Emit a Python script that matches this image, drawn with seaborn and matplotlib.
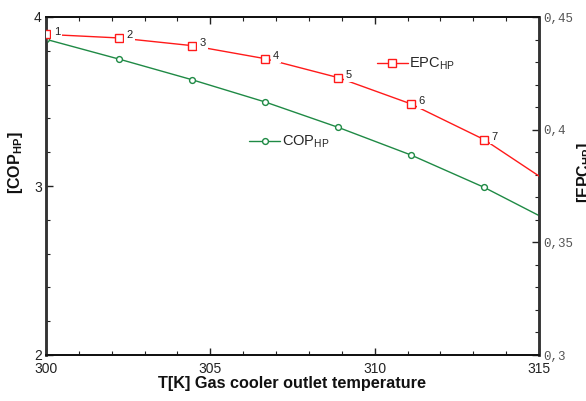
import numpy as np
import pandas as pd
import matplotlib
matplotlib.use("Agg")
import matplotlib.pyplot as plt
from matplotlib.lines import Line2D
from matplotlib.ticker import MultipleLocator, FixedLocator, FuncFormatter
import seaborn as sns

# Gas cooler outlet temperature [K] and the two performance figures
temperature = [300.0, 302.22, 304.44, 306.67, 308.89, 311.11, 313.33, 315.56]
cop_hp = [3.868, 3.751, 3.629, 3.497, 3.347, 3.183, 2.992, 2.769]
epc_hp = [0.4423, 0.4407, 0.4373, 0.4315, 0.4231, 0.4114, 0.3956, 0.374]
point_ids = ["1", "2", "3", "4", "5", "6", "7", ""]

x_ticks = [300, 305, 310, 315]
cop_ticks = [2, 3, 4]
epc_ticks = [0.3, 0.35, 0.4, 0.45]

df = pd.DataFrame({"T": temperature, "COP": cop_hp, "EPC": epc_hp, "id": point_ids})

sns.set_style("ticks")
plt.rcParams["font.family"] = ["Liberation Sans", "DejaVu Sans"]
plt.rcParams["mathtext.fontset"] = "custom"
plt.rcParams["mathtext.rm"] = "Liberation Sans"
plt.rcParams["mathtext.bf"] = "Liberation Sans:bold"
plt.rcParams["mathtext.it"] = "Liberation Sans:italic"

RED = "#ff1a1a"
GREEN = "#1f8a45"

fig = plt.figure(figsize=(5.86, 4.01), dpi=100)
ax = fig.add_axes([46 / 586, 1 - 355 / 401, 493 / 586, 338 / 401])
ax2 = ax.twinx()

sns.lineplot(data=df, x="T", y="COP", ax=ax, color=GREEN, lw=1.0,
             marker="o", markersize=4.2, markerfacecolor="white",
             markeredgecolor=GREEN, markeredgewidth=1.0, clip_on=True,
             legend=False, sort=False, zorder=3)
sns.lineplot(data=df, x="T", y="EPC", ax=ax2, color=RED, lw=1.0,
             marker="s", markersize=5.5, markerfacecolor="white",
             markeredgecolor=RED, markeredgewidth=1.0, clip_on=True,
             legend=False, sort=False, zorder=3)

# point numbers next to the EPC markers, on a white patch that breaks the line
for t, v, s in zip(df["T"], df["EPC"], df["id"]):
    if s:
        ax2.annotate(s, (t, v), xytext=(5.5, 1.8), textcoords="offset points",
                     ha="left", va="center", fontsize=8, color="#222222",
                     bbox=dict(boxstyle="square,pad=0.2", fc="white", ec="none"),
                     zorder=4)

ax.set_xlim(300, 315)
ax.set_ylim(2, 4)
ax2.set_ylim(0.3, 0.45)

ax.xaxis.set_major_locator(FixedLocator(x_ticks))
ax.xaxis.set_minor_locator(MultipleLocator(1))
ax.yaxis.set_major_locator(FixedLocator(cop_ticks))
ax.yaxis.set_minor_locator(MultipleLocator(0.2))
ax2.yaxis.set_major_locator(FixedLocator(epc_ticks))
ax2.yaxis.set_minor_locator(MultipleLocator(0.01))
ax2.yaxis.set_major_formatter(FuncFormatter(lambda v, p: f"{v:g}".replace(".", ",")))

ax.tick_params(axis="x", which="both", direction="in", top=True, bottom=True,
               labelsize=10, pad=5, colors="#222222")
ax.tick_params(axis="x", which="major", length=5, width=1)
ax.tick_params(axis="x", which="minor", length=3, width=0.8)
ax.tick_params(axis="y", which="both", direction="in", left=True, right=False,
               labelsize=10, pad=3, colors="#222222")
ax.tick_params(axis="y", which="major", length=5, width=1)
ax.tick_params(axis="y", which="minor", length=3, width=0.8)
ax2.tick_params(axis="y", which="both", direction="in", right=True, left=False,
                pad=3)
ax2.tick_params(axis="y", which="major", length=5, width=1, labelsize=9,
                labelcolor="#555555", color="#222222")
ax2.tick_params(axis="y", which="minor", length=3, width=0.8, color="#222222")
for lab in ax2.get_yticklabels():
    lab.set_family(["Liberation Mono", "DejaVu Sans Mono"])

for a in (ax, ax2):
    for side in ("top", "bottom"):
        a.spines[side].set_linewidth(1.3)
        a.spines[side].set_color("#111111")
    for side in ("left", "right"):
        a.spines[side].set_linewidth(1.8)
        a.spines[side].set_color("#333333")

ax.set_xlabel("T[K] Gas cooler outlet temperature", fontsize=11.7,
              fontweight="bold", color="#111111")
ax.xaxis.set_label_coords(0.5, -0.062)
ax.xaxis.label.set_va("top")
ax.set_ylabel(r"[$\mathbf{COP_{HP}}$]", fontsize=11.5, fontweight="bold",
              color="#111111")
ax.yaxis.set_label_coords(-0.043, 0.568)
ax2.set_ylabel(r"[$\mathbf{EPC_{HP}}$]", fontsize=11.5, fontweight="bold",
               color="#111111")
ax2.yaxis.set_label_coords(1.073, 0.541)

# inline keys for the two curves
epc_key = Line2D([], [], color=RED, lw=1.0, marker="s", markersize=5.5,
                 markerfacecolor="white", markeredgecolor=RED)
cop_key = Line2D([], [], color=GREEN, lw=1.0, marker="o", markersize=4.2,
                 markerfacecolor="white", markeredgecolor=GREEN)
leg_kw = dict(frameon=False, fontsize=10.5, handlelength=2.15, handletextpad=0.08,
              borderpad=0, borderaxespad=0, loc="center left")
leg1 = ax2.legend([epc_key], [r"EPC$_{\mathrm{HP}}$"],
                  bbox_to_anchor=(0.671, 0.861), **leg_kw)
ax2.add_artist(leg1)
ax2.legend([cop_key], [r"COP$_{\mathrm{HP}}$"],
           bbox_to_anchor=(0.412, 0.630), **leg_kw)

fig.savefig("out.png", dpi=100, facecolor="white")
